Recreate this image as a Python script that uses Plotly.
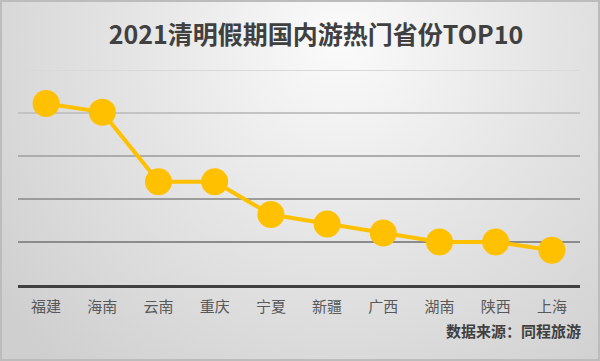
import base64
import plotly.graph_objects as go

categories = ["福建", "海南", "云南", "重庆", "宁夏", "新疆", "广西", "湖南", "陕西", "上海"]
values = [4.22, 4.02, 2.40, 2.40, 1.64, 1.42, 1.21, 1.0, 1.0, 0.81]
y_ticks = [1, 2, 3, 4, 5]
grid_colors = ["#8c8c8c", "#9c9c9c", "#adadad", "#c3c3c3", "#d9d9d9"]

title_text = "2021清明假期国内游热门省份TOP10"
source_text = "数据来源：同程旅游"

W, H = 600, 361
L, R, T, B = 18, 20, 70, 76
PW, PH = W - L - R, H - T - B

svg = """<svg xmlns='http://www.w3.org/2000/svg' width='600' height='361' preserveAspectRatio='none'>
<defs><radialGradient id='g' gradientUnits='userSpaceOnUse' cx='340' cy='40' r='430'>
<stop offset='0' stop-color='#fbfbfb'/><stop offset='0.5' stop-color='#e4e4e4'/>
<stop offset='1' stop-color='#cfcfcf'/></radialGradient></defs>
<rect x='0' y='0' width='600' height='361' fill='url(#g)'/>
<rect x='1' y='1' width='598' height='359' fill='none' stroke='#bcbcbc' stroke-width='2'/>
</svg>"""
bg_uri = "data:image/svg+xml;base64," + base64.b64encode(svg.encode()).decode()

font_cjk = "Noto Sans CJK SC, Noto Sans, sans-serif"

fig = go.Figure()
fig.add_trace(go.Scatter(
    x=categories, y=values, mode="lines+markers",
    line=dict(color="#FFC000", width=4),
    marker=dict(color="#FFC000", size=27),
    showlegend=False, hoverinfo="x+y",
))

shapes = [dict(type="line", xref="paper", yref="y", x0=0, x1=1, y0=v, y1=v,
               line=dict(color=c, width=2), layer="below")
          for v, c in zip(y_ticks, grid_colors)]

fig.update_layout(
    width=W, height=H,
    margin=dict(l=L, r=R, t=T, b=B),
    paper_bgcolor="#dcdcdc",
    plot_bgcolor="rgba(0,0,0,0)",
    images=[dict(source=bg_uri, xref="paper", yref="paper",
                 x=-L / PW, y=1 + T / PH,
                 sizex=W / PW, sizey=H / PH, xanchor="left", yanchor="top",
                 sizing="stretch", layer="below")],
    shapes=shapes,
    title=dict(text="<b>" + title_text + "</b>", x=(316 - L) / PW, xref="paper",
               xanchor="center", y=1 - 35 / H, yanchor="middle",
               font=dict(family=font_cjk, size=25, color="#404040")),
    xaxis=dict(range=[-0.5, 9.5], showgrid=False, showline=True,
               linecolor="#404040", linewidth=2.5, ticks="",
               ticklabelstandoff=6,
               tickfont=dict(family=font_cjk, size=15, color="#595959"),
               fixedrange=True),
    yaxis=dict(range=[0, 5], tickvals=y_ticks, showticklabels=False,
               showgrid=False, zeroline=False, showline=False, fixedrange=True),
    annotations=[dict(text="<b>" + source_text + "</b>", xref="paper", yref="paper",
                      x=1.0 + (583 - (W - R)) / PW, y=-(330 - (H - B)) / PH,
                      xanchor="right", yanchor="middle", showarrow=False,
                      font=dict(family=font_cjk, size=15, color="#404040"))],
)

fig.write_html("out.html")
